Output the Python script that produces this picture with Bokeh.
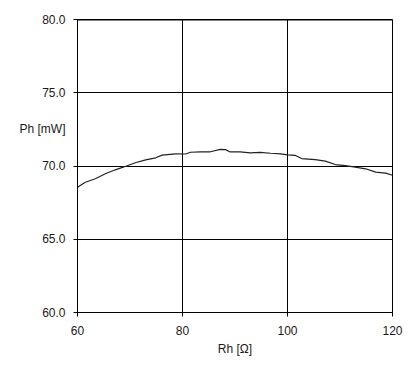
from bokeh.plotting import figure
from bokeh.models import FixedTicker, NumeralTickFormatter, Span, Range1d, LinearAxis
from bokeh.embed import file_html
from bokeh.resources import INLINE

rh = [60, 61.5, 63.4, 65.3, 67.2, 69.1, 71, 73, 74.9, 76.1, 78.7, 80.6, 81.5, 83.4,
      85.3, 87.2, 88.2, 89.1, 91, 92.9, 94.8, 96.8, 98.7, 100, 101.5, 102.7, 105.3,
      107.2, 109.1, 111, 112.9, 114.9, 116.8, 118.7, 120]
ph = [68.55, 68.89, 69.13, 69.47, 69.74, 69.97, 70.22, 70.42, 70.56, 70.74, 70.83,
      70.82, 70.94, 70.97, 70.97, 71.13, 71.12, 70.96, 70.96, 70.90, 70.93, 70.87,
      70.83, 70.76, 70.72, 70.51, 70.44, 70.33, 70.10, 70.03, 69.92, 69.81, 69.58,
      69.51, 69.37]
x_ticks = [60, 80, 100, 120]
y_ticks = [60, 65, 70, 75, 80]
y_title = "Ph [mW]"
y_title_pos = 72.5

FONT = "Liberation Sans"
TXT = "#1a1a1a"

p = figure(width=408, height=358, output_backend="svg", toolbar_location=None,
           x_range=Range1d(60, 120), y_range=Range1d(60, 80),
           min_border_left=77, min_border_top=19, min_border_right=16, min_border_bottom=46)
p.background_fill_color = "white"
p.border_fill_color = "white"
p.outline_line_color = "black"
p.outline_line_width = 1

p.line(rh, ph, line_color="#222222", line_width=1.2)

for ax in (p.xaxis[0], p.yaxis[0]):
    ax.axis_line_color = "black"
    ax.major_tick_line_color = "black"
    ax.major_tick_out = 4
    ax.major_tick_in = 0
    ax.minor_tick_line_color = None
    ax.major_label_text_font = FONT
    ax.major_label_text_font_size = "12px"
    ax.major_label_text_color = TXT

p.xaxis.ticker = FixedTicker(ticks=x_ticks)
p.xaxis.major_label_standoff = 9

# inner y axis: tick marks only (empty labels)
p.yaxis.ticker = FixedTicker(ticks=y_ticks)
p.yaxis.major_label_overrides = {t: "" for t in y_ticks}
p.yaxis.major_label_standoff = 0

# outer y axis: tick labels plus horizontal title
ylab = LinearAxis(ticker=FixedTicker(ticks=y_ticks + [y_title_pos]),
                  formatter=NumeralTickFormatter(format="0.0"),
                  major_label_overrides={y_title_pos: y_title},
                  axis_line_color=None, major_tick_line_color=None,
                  minor_tick_line_color=None, major_tick_out=0, major_tick_in=0,
                  major_label_standoff=8, major_label_text_font=FONT,
                  major_label_text_font_size="12px", major_label_text_color=TXT)
p.add_layout(ylab, "left")

p.xaxis.axis_label = "Rh [Ω]"
p.xaxis.axis_label_text_font = FONT
p.xaxis.axis_label_text_font_size = "12px"
p.xaxis.axis_label_text_font_style = "normal"
p.xaxis.axis_label_text_color = TXT
p.xaxis.axis_label_standoff = 4

p.xgrid.ticker = FixedTicker(ticks=x_ticks)
p.ygrid.ticker = FixedTicker(ticks=y_ticks)
p.xgrid.grid_line_color = "black"
p.ygrid.grid_line_color = "black"
p.xgrid.grid_line_width = 1
p.ygrid.grid_line_width = 1

p.add_layout(Span(location=80, dimension="width", line_color="black", line_width=2))

open("out.html", "w").write(file_html(p, INLINE))
